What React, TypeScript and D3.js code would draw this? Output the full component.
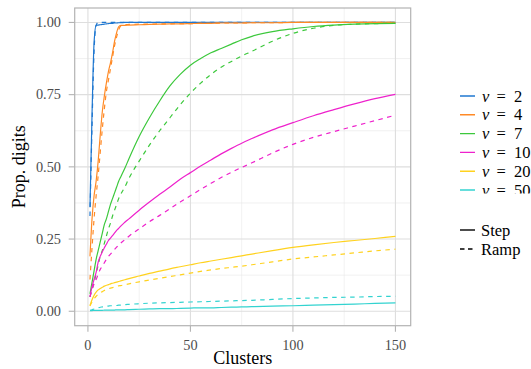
import React from "react";
import * as d3 from "d3";

const clusters = [1,2,3,4,5,6,7,8,9,10,11,12,13,14,15,16,18,20,25,30,35,40,45,50,55,60,65,70,75,80,90,100,110,120,130,140,150];

const v2Step = [0.36,0.68,0.93,0.99,0.991,0.992,0.993,0.994,0.995,0.996,0.997,0.997,0.998,0.998,0.999,0.999,1,1,1,1,1,1,1,1,1,1,1,1,1,1,1,1,1,1,1,1,1];
const v2Ramp = [0.33,0.64,0.9,0.99,1,1,1,1,1,1,1,1,1,1,1,1,1,1,1,1,1,1,1,1,1,1,1,1,1,1,1,1,1,1,1,1,1];
const v4Step = [0.19,0.32,0.40,0.45,0.52,0.61,0.69,0.745,0.79,0.83,0.86,0.895,0.935,0.965,0.985,0.99,0.99,0.991,0.992,0.993,0.994,0.995,0.995,0.996,0.997,0.997,0.998,0.998,0.998,0.999,0.999,1,1,1,1,1,1];
const v4Ramp = [0.11,0.22,0.32,0.40,0.47,0.55,0.63,0.70,0.76,0.80,0.84,0.88,0.92,0.95,0.975,0.988,0.992,0.993,0.994,0.994,0.995,0.995,0.996,0.996,0.997,0.997,0.998,0.998,0.998,0.999,0.999,1,1,1,1,1,1];
const v7Step = [0.06,0.10,0.14,0.18,0.21,0.24,0.27,0.30,0.32,0.345,0.37,0.39,0.41,0.43,0.45,0.465,0.495,0.528,0.605,0.67,0.728,0.78,0.82,0.852,0.875,0.895,0.91,0.925,0.94,0.952,0.968,0.978,0.986,0.991,0.994,0.996,0.997];
const v7Ramp = [0.05,0.075,0.10,0.13,0.16,0.19,0.21,0.235,0.26,0.285,0.305,0.33,0.35,0.37,0.39,0.405,0.43,0.46,0.52,0.575,0.625,0.67,0.715,0.755,0.79,0.82,0.845,0.865,0.884,0.90,0.935,0.962,0.98,0.99,0.994,0.996,0.997];
const v10Step = [0.05,0.085,0.11,0.135,0.17,0.19,0.205,0.22,0.232,0.245,0.253,0.262,0.271,0.28,0.287,0.295,0.308,0.32,0.35,0.378,0.405,0.43,0.457,0.48,0.503,0.524,0.545,0.564,0.582,0.598,0.628,0.653,0.677,0.698,0.718,0.736,0.751];
const v10Ramp = [0.05,0.075,0.095,0.11,0.128,0.145,0.155,0.168,0.18,0.19,0.198,0.206,0.214,0.222,0.23,0.236,0.248,0.26,0.285,0.31,0.332,0.355,0.378,0.40,0.422,0.443,0.463,0.481,0.498,0.514,0.548,0.578,0.602,0.622,0.641,0.66,0.679];
const v20Step = [0.02,0.04,0.055,0.066,0.074,0.079,0.083,0.087,0.09,0.092,0.095,0.097,0.099,0.101,0.103,0.105,0.109,0.113,0.122,0.131,0.139,0.147,0.154,0.161,0.168,0.174,0.18,0.186,0.192,0.198,0.21,0.221,0.23,0.238,0.245,0.252,0.259];
const v20Ramp = [0.018,0.032,0.043,0.052,0.059,0.064,0.068,0.072,0.075,0.078,0.08,0.082,0.084,0.086,0.088,0.089,0.092,0.095,0.102,0.108,0.114,0.12,0.126,0.132,0.138,0.143,0.148,0.152,0.156,0.161,0.171,0.181,0.188,0.195,0.202,0.209,0.215];
const v50Step = [0.002,0.002,0.003,0.003,0.003,0.003,0.003,0.004,0.004,0.004,0.004,0.004,0.004,0.005,0.005,0.005,0.005,0.006,0.007,0.008,0.009,0.009,0.010,0.011,0.012,0.012,0.013,0.014,0.015,0.016,0.018,0.019,0.021,0.023,0.025,0.027,0.029];
const v50Ramp = [0.003,0.005,0.008,0.010,0.012,0.014,0.015,0.016,0.017,0.018,0.019,0.019,0.020,0.020,0.021,0.021,0.023,0.024,0.026,0.028,0.029,0.030,0.031,0.032,0.033,0.034,0.035,0.036,0.037,0.038,0.041,0.044,0.046,0.048,0.049,0.051,0.052];

const vLabels = ["2", "4", "7", "10", "20", "50"];
const vColors = ["#1f77d0", "#ff8a26", "#3cc83c", "#ee22cc", "#ffd21f", "#33d3d0"];
const stepSeries = [v2Step, v4Step, v7Step, v10Step, v20Step, v50Step];
const rampSeries = [v2Ramp, v4Ramp, v7Ramp, v10Ramp, v20Ramp, v50Ramp];
const typeLabels = ["Step", "Ramp"];

const xTicks = [0, 50, 100, 150];
const xMinor = [25, 75, 125];
const yTicks = [0, 0.25, 0.5, 0.75, 1];
const yMinor = [0.125, 0.375, 0.625, 0.875];

const W = 531, H = 369;
const panel = { left: 74.7, right: 410.7, top: 8, bottom: 325.7 };
const FONT = "'Liberation Serif', 'Times New Roman', serif";

export default function App() {
  const xs = d3.scaleLinear().domain([1 - 0.05 * 149, 150 + 0.05 * 149]).range([panel.left, panel.right]);
  const ys = d3.scaleLinear().domain([-0.05, 1.05]).range([panel.bottom, panel.top]);
  const line = d3.line<number>().x((_, i) => xs(clusters[i])).y((d) => ys(d)).curve(d3.curveMonotoneX);

  const legendRows = [96, 114.8, 133.6, 152.4, 171.2, 190];
  const typeRows = [230, 249];

  return (
    <svg width={W} height={H} style={{ position: "absolute", left: 0, top: 0, background: "#fff" }} fontFamily={FONT}>
      <defs>
        <clipPath id="panelClip">
          <rect x={panel.left} y={panel.top} width={panel.right - panel.left} height={panel.bottom - panel.top} />
        </clipPath>
        <clipPath id="legClip">
          <rect x={440} y={80} width={100} height={113.5} />
        </clipPath>
      </defs>
      <rect x={panel.left} y={panel.top} width={panel.right - panel.left} height={panel.bottom - panel.top} fill="#fff" />
      {xMinor.map((t) => (
        <line key={"xm" + t} x1={xs(t)} x2={xs(t)} y1={panel.top} y2={panel.bottom} stroke="#e8e8e8" strokeWidth={0.6} />
      ))}
      {yMinor.map((t) => (
        <line key={"ym" + t} y1={ys(t)} y2={ys(t)} x1={panel.left} x2={panel.right} stroke="#e8e8e8" strokeWidth={0.6} />
      ))}
      {xTicks.map((t) => (
        <line key={"xg" + t} x1={xs(t)} x2={xs(t)} y1={panel.top} y2={panel.bottom} stroke="#dedede" strokeWidth={1.1} />
      ))}
      {yTicks.map((t) => (
        <line key={"yg" + t} y1={ys(t)} y2={ys(t)} x1={panel.left} x2={panel.right} stroke="#dedede" strokeWidth={1.1} />
      ))}
      <g clipPath="url(#panelClip)">
        {vLabels.map((v, k) => (
          <g key={"s" + v}>
            <path d={line(stepSeries[k]) || ""} fill="none" stroke={vColors[k]} strokeWidth={1.2} />
            <path d={line(rampSeries[k]) || ""} fill="none" stroke={vColors[k]} strokeWidth={1.2} strokeDasharray="4.5,4.5" />
          </g>
        ))}
      </g>
      <rect x={panel.left} y={panel.top} width={panel.right - panel.left} height={panel.bottom - panel.top} fill="none" stroke="#b3b3b3" strokeWidth={1.2} />
      {xTicks.map((t) => (
        <g key={"xt" + t}>
          <line x1={xs(t)} x2={xs(t)} y1={panel.bottom} y2={panel.bottom + 6} stroke="#b3b3b3" strokeWidth={1.1} />
          <text x={xs(t)} y={350} textAnchor="middle" fontSize={14.3} fill="#4d4d4d">{String(t)}</text>
        </g>
      ))}
      {yTicks.map((t) => (
        <g key={"yt" + t}>
          <line x1={panel.left - 6} x2={panel.left} y1={ys(t)} y2={ys(t)} stroke="#b3b3b3" strokeWidth={1.1} />
          <text x={61} y={ys(t) + 4.8} textAnchor="end" fontSize={14.3} fill="#4d4d4d">{d3.format(".2f")(t)}</text>
        </g>
      ))}
      <text x={(panel.left + panel.right) / 2} y={364} textAnchor="middle" fontSize={18} fill="#000">Clusters</text>
      <text transform={`translate(25,${(panel.top + panel.bottom) / 2}) rotate(-90)`} textAnchor="middle" fontSize={18} fill="#000">Prop. digits</text>

      <g clipPath="url(#legClip)">
        {vLabels.map((v, k) => (
          <g key={"l" + v}>
            <line x1={460} x2={475} y1={legendRows[k]} y2={legendRows[k]} stroke={vColors[k]} strokeWidth={1.4} />
            <text y={legendRows[k] + 5.5} fontSize={16.5} fill="#000">
              <tspan x={482} fontStyle="italic">v</tspan>
              <tspan x={496.5}>=</tspan>
              <tspan x={514}>{v}</tspan>
            </text>
          </g>
        ))}
      </g>
      {typeLabels.map((t, k) => (
        <g key={"t" + t}>
          <line x1={460} x2={475} y1={typeRows[k]} y2={typeRows[k]} stroke="#000" strokeWidth={1.4} strokeDasharray={k === 1 ? "4.5,3.5" : undefined} />
          <text x={481} y={typeRows[k] + 5.5} fontSize={16.5} fill="#000">{t}</text>
        </g>
      ))}
    </svg>
  );
}
